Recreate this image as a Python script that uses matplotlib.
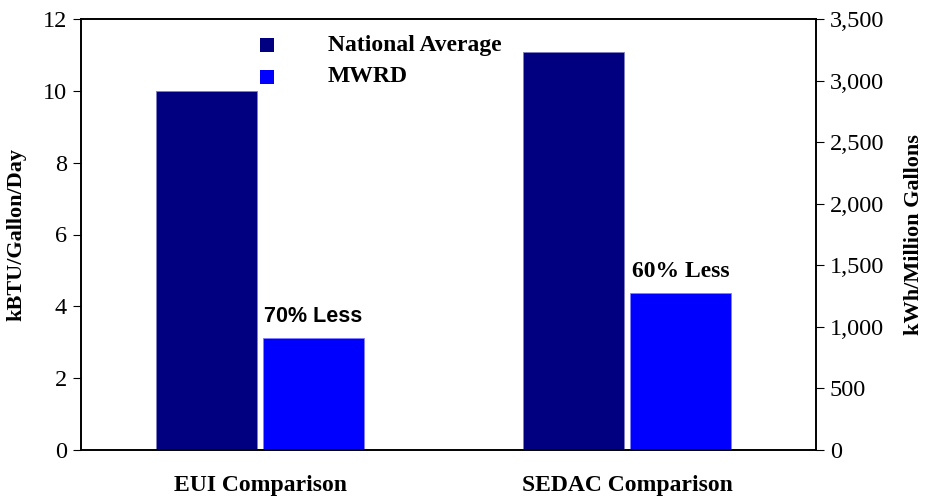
import matplotlib
matplotlib.use("Agg")
import matplotlib.pyplot as plt
from matplotlib.ticker import FuncFormatter, MultipleLocator
from matplotlib.patches import Rectangle

categories = ["EUI Comparison", "SEDAC Comparison"]
series_names = ["National Average", "MWRD"]
eui_values = [10.0, 3.12]          # kBTU/Gallon/Day (left axis)
sedac_values = [3235, 1275]        # kWh/Million Gallons (right axis)
annotations = ["70% Less", "60% Less"]
colors = ["#000080", "#0000FF"]

plt.rcParams["font.family"] = ["Liberation Serif", "DejaVu Serif"]

fig = plt.figure(figsize=(9.27, 4.99), dpi=100)
W, H = 927, 499
ax = fig.add_axes([81 / W, 1 - 450 / H, (816 - 81) / W, (450 - 19) / H])
ax2 = ax.twinx()

bw = 0.275
gap = 0.008
off = bw / 2 + gap
# EUI on left axis
ax.bar(0 - off, eui_values[0], width=bw, color=colors[0], edgecolor="#8080C0", linewidth=0.6)
ax.bar(0 + off, eui_values[1], width=bw, color=colors[1], edgecolor="#8080FF", linewidth=0.6)
# SEDAC on right axis
ax2.bar(1 - off, sedac_values[0], width=bw, color=colors[0], edgecolor="#8080C0", linewidth=0.6)
ax2.bar(1 + off, sedac_values[1], width=bw, color=colors[1], edgecolor="#8080FF", linewidth=0.6)

ax.set_xlim(-0.4875, 1.514)
ax.set_ylim(0, 12)
ax2.set_ylim(0, 3500)
ax.yaxis.set_major_locator(MultipleLocator(2))
ax2.yaxis.set_major_locator(MultipleLocator(500))
ax2.yaxis.set_major_formatter(FuncFormatter(lambda v, p: f"{int(v):,}"))

ax.set_xticks([0, 1])
ax.set_xticklabels(categories, fontsize=17, fontweight="bold")
ax.tick_params(axis="x", length=0, pad=18)
ax.tick_params(axis="y", direction="out", length=6, labelsize=17.5, pad=4)
ax2.tick_params(axis="y", direction="out", length=6, labelsize=17.5, pad=4)

for a in (ax, ax2):
    for s in a.spines.values():
        s.set_linewidth(1.2)
        s.set_color("black")

ax.set_ylabel("kBTU/Gallon/Day", fontsize=16, fontweight="bold", labelpad=12)
ax2.set_ylabel("kWh/Million Gallons", fontsize=16, fontweight="bold", labelpad=14)

# annotations
ax.text(0 + off, eui_values[1] + 0.3, annotations[0], ha="center", va="bottom",
        fontsize=15.5, fontweight="bold", family=["Liberation Sans", "DejaVu Sans"])
ax2.text(1 + off, sedac_values[1] + 90, annotations[1], ha="center", va="bottom",
         fontsize=17, fontweight="bold")

# legend (manual, figure coords)
for i, name in enumerate(series_names):
    yc = [45, 77][i]
    fig.patches.append(Rectangle((260 / W, 1 - (yc + 7) / H), 14 / W, 14 / H,
                                 transform=fig.transFigure, facecolor=colors[i],
                                 edgecolor="none"))
    fig.text(328 / W, 1 - yc / H, name, fontsize=17, fontweight="bold",
             ha="left", va="center")

fig.savefig("out.png", dpi=100)
